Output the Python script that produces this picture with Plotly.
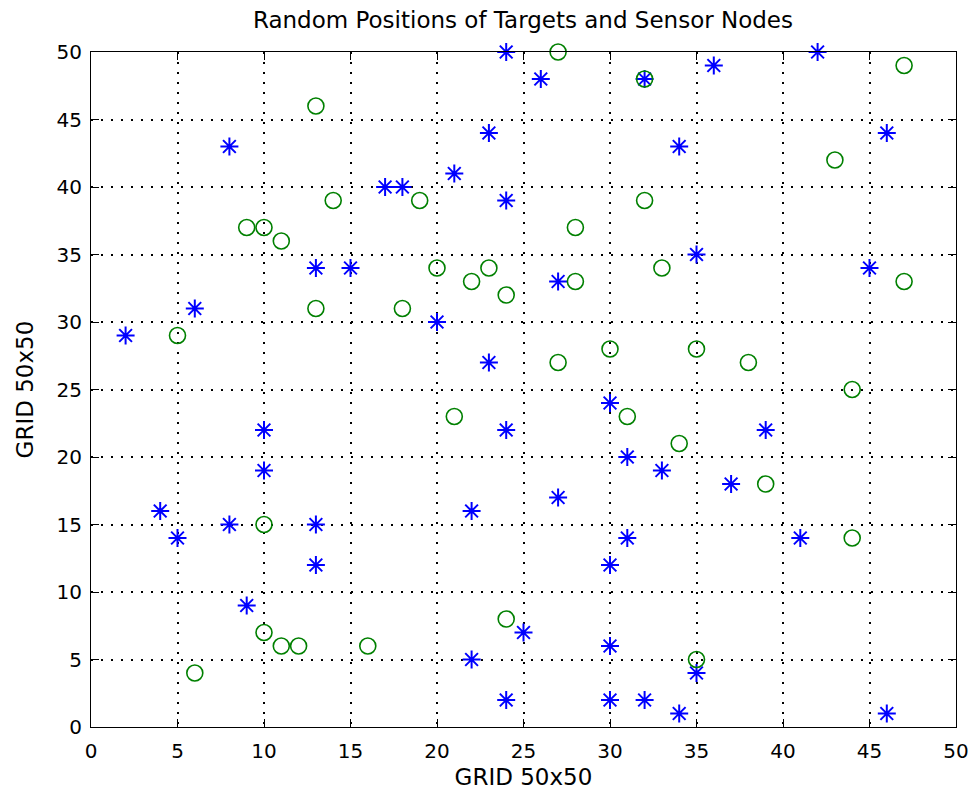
import plotly.graph_objects as go

# Sensor nodes (blue asterisks)
sensor_x = [24, 26, 32, 36, 42, 8, 23, 34, 46, 17, 18, 21, 24, 13, 15, 27, 35, 45, 6, 2,
            20, 23, 10, 24, 39, 10, 31, 33, 37, 4, 8, 13, 22, 27, 5, 13, 31, 41, 30, 30,
            9, 25, 22, 30, 35, 24, 30, 32, 34, 46]
sensor_y = [50, 48, 48, 49, 50, 43, 44, 43, 44, 40, 40, 41, 39, 34, 34, 33, 35, 34, 31, 29,
            30, 27, 22, 22, 22, 19, 20, 19, 18, 16, 15, 15, 16, 17, 14, 12, 14, 14, 12, 24,
            9, 7, 5, 6, 4, 2, 2, 2, 1, 1]

# Targets (green circles)
target_x = [27, 32, 47, 13, 43, 14, 19, 32, 9, 10, 11, 28, 20, 23, 33, 22, 28, 47, 24, 13,
            18, 5, 30, 35, 27, 38, 44, 21, 31, 34, 39, 10, 44, 24, 10, 11, 12, 16, 6, 35]
target_y = [50, 48, 49, 46, 42, 39, 39, 39, 37, 37, 36, 37, 34, 34, 34, 33, 33, 33, 32, 31,
            31, 29, 28, 28, 27, 27, 25, 23, 23, 21, 18, 15, 14, 8, 7, 6, 6, 6, 4, 5]

tick_vals = [0, 5, 10, 15, 20, 25, 30, 35, 40, 45, 50]
tick_text = [str(v) for v in tick_vals]

title_text = "Random Positions of Targets and Sensor Nodes"
x_label = "GRID 50x50"
y_label = "GRID 50x50"

FONT = "DejaVu Sans, Liberation Sans, Arial, sans-serif"

fig = go.Figure()
fig.add_trace(go.Scatter(
    x=sensor_x, y=sensor_y, mode="markers", name="Sensor Nodes",
    marker=dict(symbol="asterisk-open", size=15, color="#0000ff",
                line=dict(color="#0000ff", width=2)),
    cliponaxis=False,
))
fig.add_trace(go.Scatter(
    x=target_x, y=target_y, mode="markers", name="Targets",
    marker=dict(symbol="circle-open", size=16, color="#008000",
                line=dict(color="#008000", width=1.6)),
    cliponaxis=False,
))

axis_common = dict(
    range=[0, 50], tickvals=tick_vals, ticktext=tick_text, automargin=False,
    showgrid=True, gridcolor="#000000", gridwidth=1.5, griddash="1.5px,8.5px",
    zeroline=False, showline=True, linecolor="black", linewidth=1.2,
    mirror="allticks", ticks="inside", ticklen=8, tickcolor="black", tickwidth=1.2,
    tickfont=dict(family=FONT, size=20, color="black"),
)

fig.update_layout(
    width=973, height=799,
    margin=dict(l=91, r=17, t=52, b=72, autoexpand=False),
    paper_bgcolor="white", plot_bgcolor="white",
    showlegend=False,
    title=dict(text=title_text, x=0.5375, xanchor="center", y=0.975, yanchor="middle",
               font=dict(family=FONT, size=23, color="black")),
    xaxis=dict(**axis_common, ticklabelstandoff=6,
               title=dict(text=x_label, standoff=6,
                          font=dict(family=FONT, size=23, color="black"))),
    yaxis=dict(**axis_common, ticklabelstandoff=4,
               title=dict(text=y_label, standoff=16,
                          font=dict(family=FONT, size=23, color="black"))),
)

fig.write_html(
    "out.html",
    config={"displayModeBar": False},
    post_script="document.body.style.margin='0px';document.body.style.overflow='hidden';",
)
